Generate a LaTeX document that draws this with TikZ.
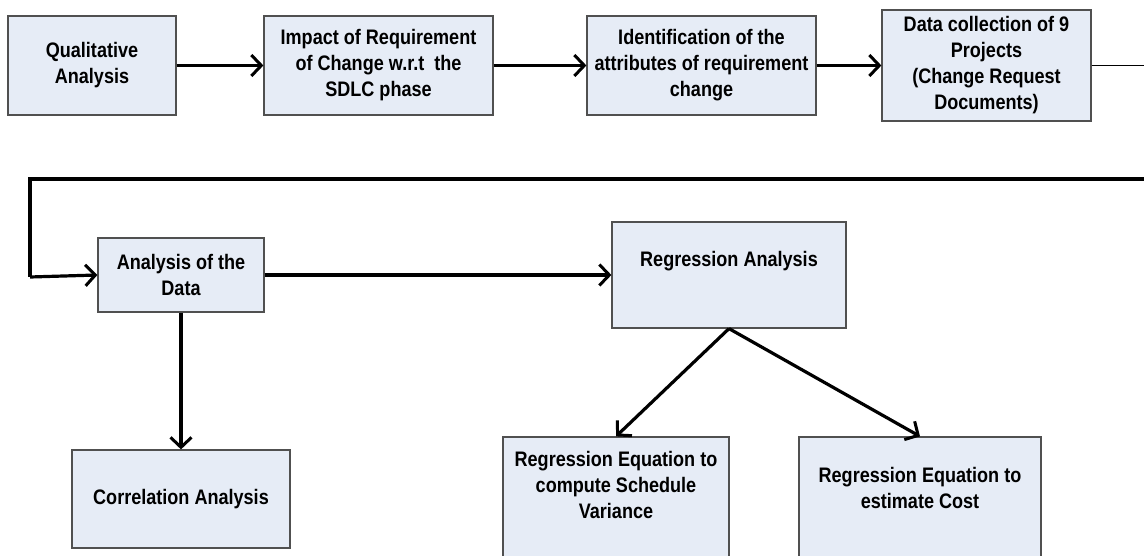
\documentclass[tikz,border=0pt]{standalone}
\usepackage{fontspec}
\setmainfont{Liberation Sans}[FakeStretch=0.86]
\usetikzlibrary{arrows.meta}
\definecolor{boxfill}{RGB}{230,236,246}
\definecolor{boxline}{RGB}{80,80,80}
\tikzset{
  stagebox/.style={draw=boxline, line width=1.2pt, fill=boxfill, inner sep=0pt,
    align=center, font=\fontsize{21}{26}\selectfont\bfseries},
  boxtext/.style={inner sep=0pt, align=center, font=\fontsize{21}{26}\selectfont\bfseries},
  flow/.style={line width=3.2pt, -{Straight Barb[length=10pt,width=21pt,line width=3pt]}},
  thinflow/.style={line width=1.5pt},
  thickline/.style={line width=3.4pt},
}
\begin{document}
\begin{tikzpicture}[x=1pt, y=-1pt]
  \clip (0,0) rectangle (1144,556);
  \fill[white] (0,0) rectangle (1144,556);

  % upper row of stages
  \node[stagebox, minimum width=168pt, minimum height=99pt] (qual) at (92,65.5)
    {Qualitative\\Analysis};
  \node[stagebox, minimum width=229pt, minimum height=99pt] (impact) at (378.5,65.5)
    {Impact of Requirement\\of Change w.r.t\ \ the\\SDLC phase};
  \node[stagebox, minimum width=229pt, minimum height=99pt] (ident) at (701.5,65.5)
    {Identification of the\\attributes of requirement\\change};
  \node[stagebox, minimum width=209pt, minimum height=111pt] (collect) at (986.5,65.5)
    {Data collection of 9\\Projects\\(Change Request\\Documents)};

  % middle row
  \node[stagebox, minimum width=166pt, minimum height=74pt] (analysis) at (181,275)
    {Analysis of the\\Data};
  \node[stagebox, minimum width=234pt, minimum height=106pt] (regr) at (729,275) {};
  \node[boxtext] (regrtext) at (729,261) {Regression Analysis};

  % lower row
  \node[stagebox, minimum width=218pt, minimum height=98pt] (corr) at (181,499)
    {Correlation Analysis};
  \node[stagebox, minimum width=226pt, minimum height=133pt] (sched) at (616,503.5) {};
  \node[boxtext] (schedtext) at (616,485)
    {Regression Equation to\\compute Schedule\\Variance};
  \node[stagebox, minimum width=242pt, minimum height=133pt] (cost) at (920,503.5) {};
  \node[boxtext] (costtext) at (920,488)
    {Regression Equation to\\estimate Cost};

  % route from the upper row back to the left
  \coordinate (exitA) at (1144,65.5);
  \coordinate (exitB) at (1150,179);
  \coordinate (turnA) at (30,179);
  \coordinate (turnB) at (30,277);

  % connectors
  \draw[flow] (qual.east) -- (impact.west);
  \draw[flow] (impact.east) -- (ident.west);
  \draw[flow] (ident.east) -- (collect.west);
  \draw[thinflow] (collect.east) -- (exitA);
  \draw[thickline] (exitB) -- (turnA) -- (turnB);
  \draw[flow] (turnB) -- (analysis.west);
  \draw[flow] (analysis.east) -- (regr.west);
  \draw[flow] (analysis.south) -- (corr.north);
  \draw[flow] (regr.south) -- (sched.north);
  \draw[flow] (regr.south) -- (cost.north);
\end{tikzpicture}
\end{document}
